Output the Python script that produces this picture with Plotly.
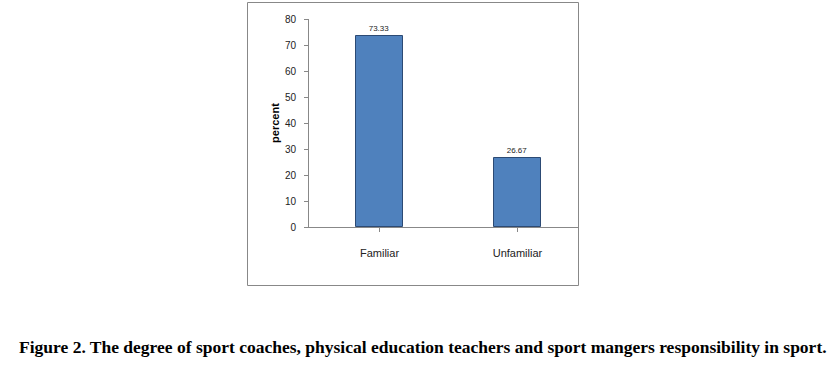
import plotly.graph_objects as go

categories = ["Familiar", "Unfamiliar"]
values = [73.33, 26.67]
value_labels = ["73.33", "26.67"]
y_ticks = [0, 10, 20, 30, 40, 50, 60, 70, 80]
caption = "Figure 2. The degree of sport coaches, physical education teachers and sport mangers responsibility in sport."

# plot-area pixel geometry
L, R, T, B = 309, 579, 19, 227
W, H = 831, 369
pw, ph = R - L, B - T

def px(x):
    return (x - L) / pw

def py(y):
    return (B - y) / ph

fig = go.Figure()
fig.add_trace(go.Bar(
    x=categories, y=values,
    width=0.34,
    marker=dict(color="#4F81BD", line=dict(color="#2C4A74", width=1)),
    text=value_labels, textposition="outside",
    textfont=dict(family="Liberation Sans Narrow, Liberation Sans, sans-serif", size=8, color="#222"),
    cliponaxis=False,
))

fig.update_layout(
    width=W, height=H,
    margin=dict(l=L, r=W - R, t=T, b=H - B),
    paper_bgcolor="white", plot_bgcolor="white",
    showlegend=False,
    bargap=0,
    font=dict(family="Liberation Sans Narrow, Liberation Sans, sans-serif", size=10, color="#222"),
    xaxis=dict(
        range=[-0.511, 1.446],
        showline=True, linecolor="#888", linewidth=1,
        ticks="outside", ticklen=4, tickcolor="#888",
        tickfont=dict(size=11, color="#222"),
        ticklabelstandoff=12,
        showgrid=False, zeroline=False,
    ),
    yaxis=dict(
        range=[0, 80], tickvals=y_ticks,
        showline=True, linecolor="#888", linewidth=1,
        ticks="outside", ticklen=4, tickcolor="#888",
        tickfont=dict(size=10, color="#222"),
        ticklabelstandoff=6,
        showgrid=False, zeroline=False,
        title=dict(text="<b>percent</b>", font=dict(family="Liberation Sans, sans-serif", size=11, color="#000"), standoff=3),
    ),
)

fig.add_shape(type="rect", xref="paper", yref="paper",
              x0=px(247.5), x1=px(578.5), y0=py(285.5), y1=py(2.5),
              line=dict(color="#888", width=1), fillcolor="rgba(0,0,0,0)", layer="below")

fig.add_annotation(text="<b>" + caption + "</b>", xref="paper", yref="paper",
                   x=px(423), y=py(347), showarrow=False,
                   xanchor="center", yanchor="middle",
                   font=dict(family="Liberation Serif, Times New Roman, serif", size=17.5, color="#000"))

fig.write_html("out.html")
